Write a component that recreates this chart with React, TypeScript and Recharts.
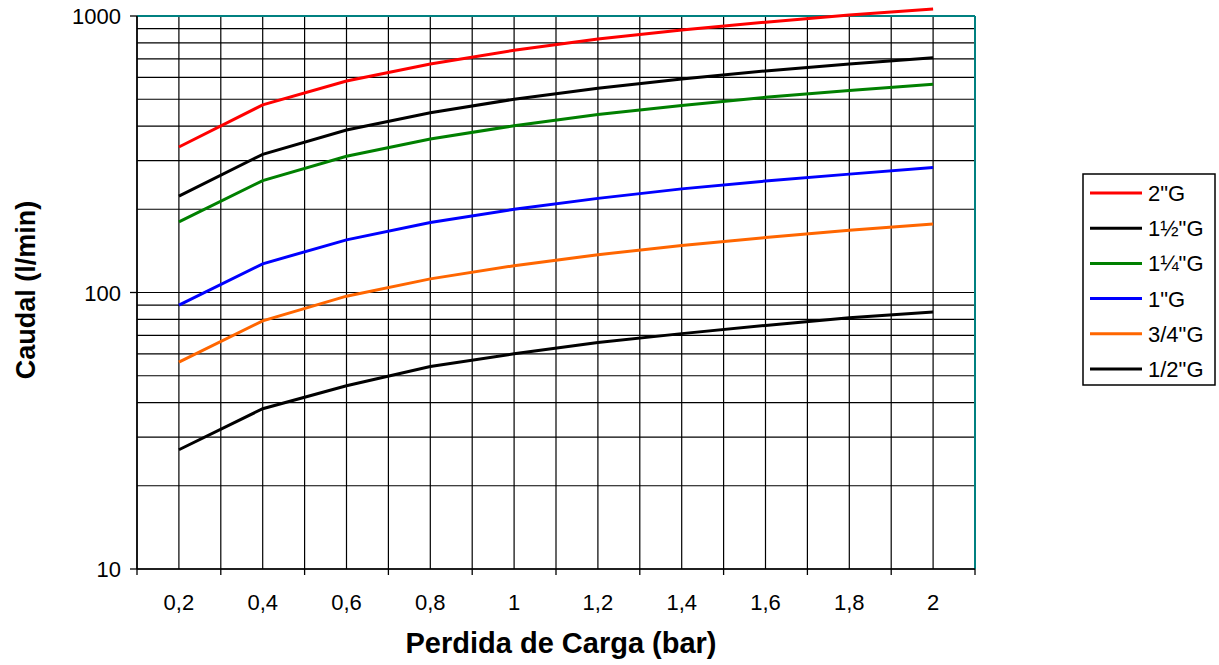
import React from "react";
import {
  LineChart,
  Line,
  XAxis,
  YAxis,
  CartesianGrid,
  Legend,
  ReferenceLine,
  Label,
} from "recharts";

const pressures = [0.2, 0.4, 0.6, 0.8, 1, 1.2, 1.4, 1.6, 1.8, 2];
const xTickLabels = ["0,2", "0,4", "0,6", "0,8", "1", "1,2", "1,4", "1,6", "1,8", "2"];
const xGridTicks = [0.1, 0.2, 0.3, 0.4, 0.5, 0.6, 0.7, 0.8, 0.9, 1, 1.1, 1.2, 1.3, 1.4, 1.5, 1.6, 1.7, 1.8, 1.9, 2, 2.1];
const yTicks = [10, 20, 30, 40, 50, 60, 70, 80, 90, 100, 200, 300, 400, 500, 600, 700, 800, 900, 1000];
const yMajorLabels = [10, 100, 1000];

const seriesNames = ['2"G', '1½"G', '1¼"G', '1"G', '3/4"G', '1/2"G'];
const seriesColors = ["#FF0000", "#000000", "#008000", "#0000FF", "#FF6600", "#000000"];

const q2 = [336, 477, 582, 670, 752, 825, 890, 950, 1008, 1060];
const q112 = [223, 316, 387, 447, 500, 548, 592, 633, 671, 707];
const q114 = [180, 254, 311, 359, 401, 440, 475, 508, 538, 567];
const q1 = [90, 127, 155, 179, 200, 219, 237, 253, 268, 283];
const q34 = [56, 79, 97, 112, 125, 137, 148, 158, 168, 177];
const q12 = [27, 38, 46, 54, 60, 66, 71, 76, 81, 85];

const seriesValues = [q2, q112, q114, q1, q34, q12];

const data = pressures.map((p, i) => {
  const row: Record<string, number> = { p };
  seriesValues.forEach((vals, s) => {
    row["s" + s] = vals[i];
  });
  return row;
});

const FONT = "'Liberation Sans', Arial, sans-serif";

function XTick(props: any) {
  const { x, y, payload } = props;
  const k = Math.round(payload.value * 10);
  if (k % 2 === 0) {
    const label = xTickLabels[k / 2 - 1];
    return (
      <text x={x} y={y + 41} textAnchor="middle" fontSize={22} fontFamily={FONT} fill="#000">
        {label}
      </text>
    );
  }
  return <line x1={x} x2={x} y1={y} y2={y + 6} stroke="#000" strokeWidth={1.3} />;
}

function YTick(props: any) {
  const { x, y, payload } = props;
  if (yMajorLabels.indexOf(payload.value) >= 0) {
    return (
      <g>
        <line x1={x - 7} x2={x} y1={y} y2={y} stroke="#000" strokeWidth={1.3} />
        <text x={x - 16} y={y + 8} textAnchor="end" fontSize={22} fontFamily={FONT} fill="#000">
          {payload.value}
        </text>
      </g>
    );
  }
  return <g />;
}

function LegendBox() {
  return (
    <svg width={134} height={214} style={{ display: "block" }}>
      <rect x={1} y={1} width={132} height={211} fill="#fff" stroke="#000" strokeWidth={1.5} />
      {seriesNames.map((name, i) => {
        const cy = 20 + i * 35.2;
        return (
          <g key={name}>
            <line x1={8} x2={60} y1={cy} y2={cy} stroke={seriesColors[i]} strokeWidth={3} />
            <text x={66} y={cy + 8} fontSize={22} fontFamily={FONT} fill="#000">
              {name}
            </text>
          </g>
        );
      })}
    </svg>
  );
}

const renderXLabel = (props: any) => {
  const vb = props.viewBox || {};
  return (
    <text
      x={vb.x + vb.width / 2 + 5}
      y={vb.y + 84}
      textAnchor="middle"
      fontSize={29}
      fontWeight="bold"
      fontFamily={FONT}
      fill="#000"
    >
      Perdida de Carga (bar)
    </text>
  );
};

const renderYLabel = () => {
  return (
    <text
      x={26}
      y={290}
      transform="rotate(-90, 26, 290)"
      textAnchor="middle"
      dominantBaseline="central"
      fontSize={27}
      fontWeight="bold"
      fontFamily={FONT}
      fill="#000"
    >
      Caudal (l/min)
    </text>
  );
};

export default function App() {
  return (
    <div style={{ position: "absolute", left: 0, top: 0, width: 1219, height: 665, background: "#fff" }}>
      <style>{`.recharts-line, .recharts-line * { clip-path: none !important; }`}</style>
      <LineChart
        width={1219}
        height={665}
        data={data}
        margin={{ top: 16, right: 110, bottom: 0, left: 0 }}
      >
        <CartesianGrid stroke="#000" strokeWidth={1.2} />
        <XAxis
          dataKey="p"
          type="number"
          domain={[0.1, 2.1]}
          ticks={xGridTicks}
          interval={0}
          height={96}
          tickSize={0}
          tickMargin={0}
          tickLine={false}
          axisLine={{ stroke: "#000", strokeWidth: 1.5 }}
          tick={<XTick />}
          allowDataOverflow
        >
          <Label content={renderXLabel} />
        </XAxis>
        <YAxis
          scale="log"
          domain={[10, 1000]}
          ticks={yTicks}
          interval={0}
          width={137}
          tickSize={0}
          tickMargin={0}
          tickLine={false}
          axisLine={{ stroke: "#000", strokeWidth: 1.5 }}
          tick={<YTick />}
          allowDataOverflow
        >
          <Label content={renderYLabel} />
        </YAxis>
        <ReferenceLine y={1000} stroke="#008080" strokeWidth={2} />
        <ReferenceLine x={2.1} stroke="#008080" strokeWidth={2} />
        {seriesNames.map((name, s) => (
          <Line
            key={name}
            name={name}
            dataKey={"s" + s}
            stroke={seriesColors[s]}
            strokeWidth={3}
            dot={false}
            activeDot={false}
            type="linear"
            isAnimationActive={false}
          />
        ))}
        <Legend
          layout="vertical"
          align="right"
          verticalAlign="middle"
          content={<LegendBox />}
          wrapperStyle={{ position: "absolute", left: 1082, top: 173, width: 134, height: 214 }}
        />
      </LineChart>
    </div>
  );
}
